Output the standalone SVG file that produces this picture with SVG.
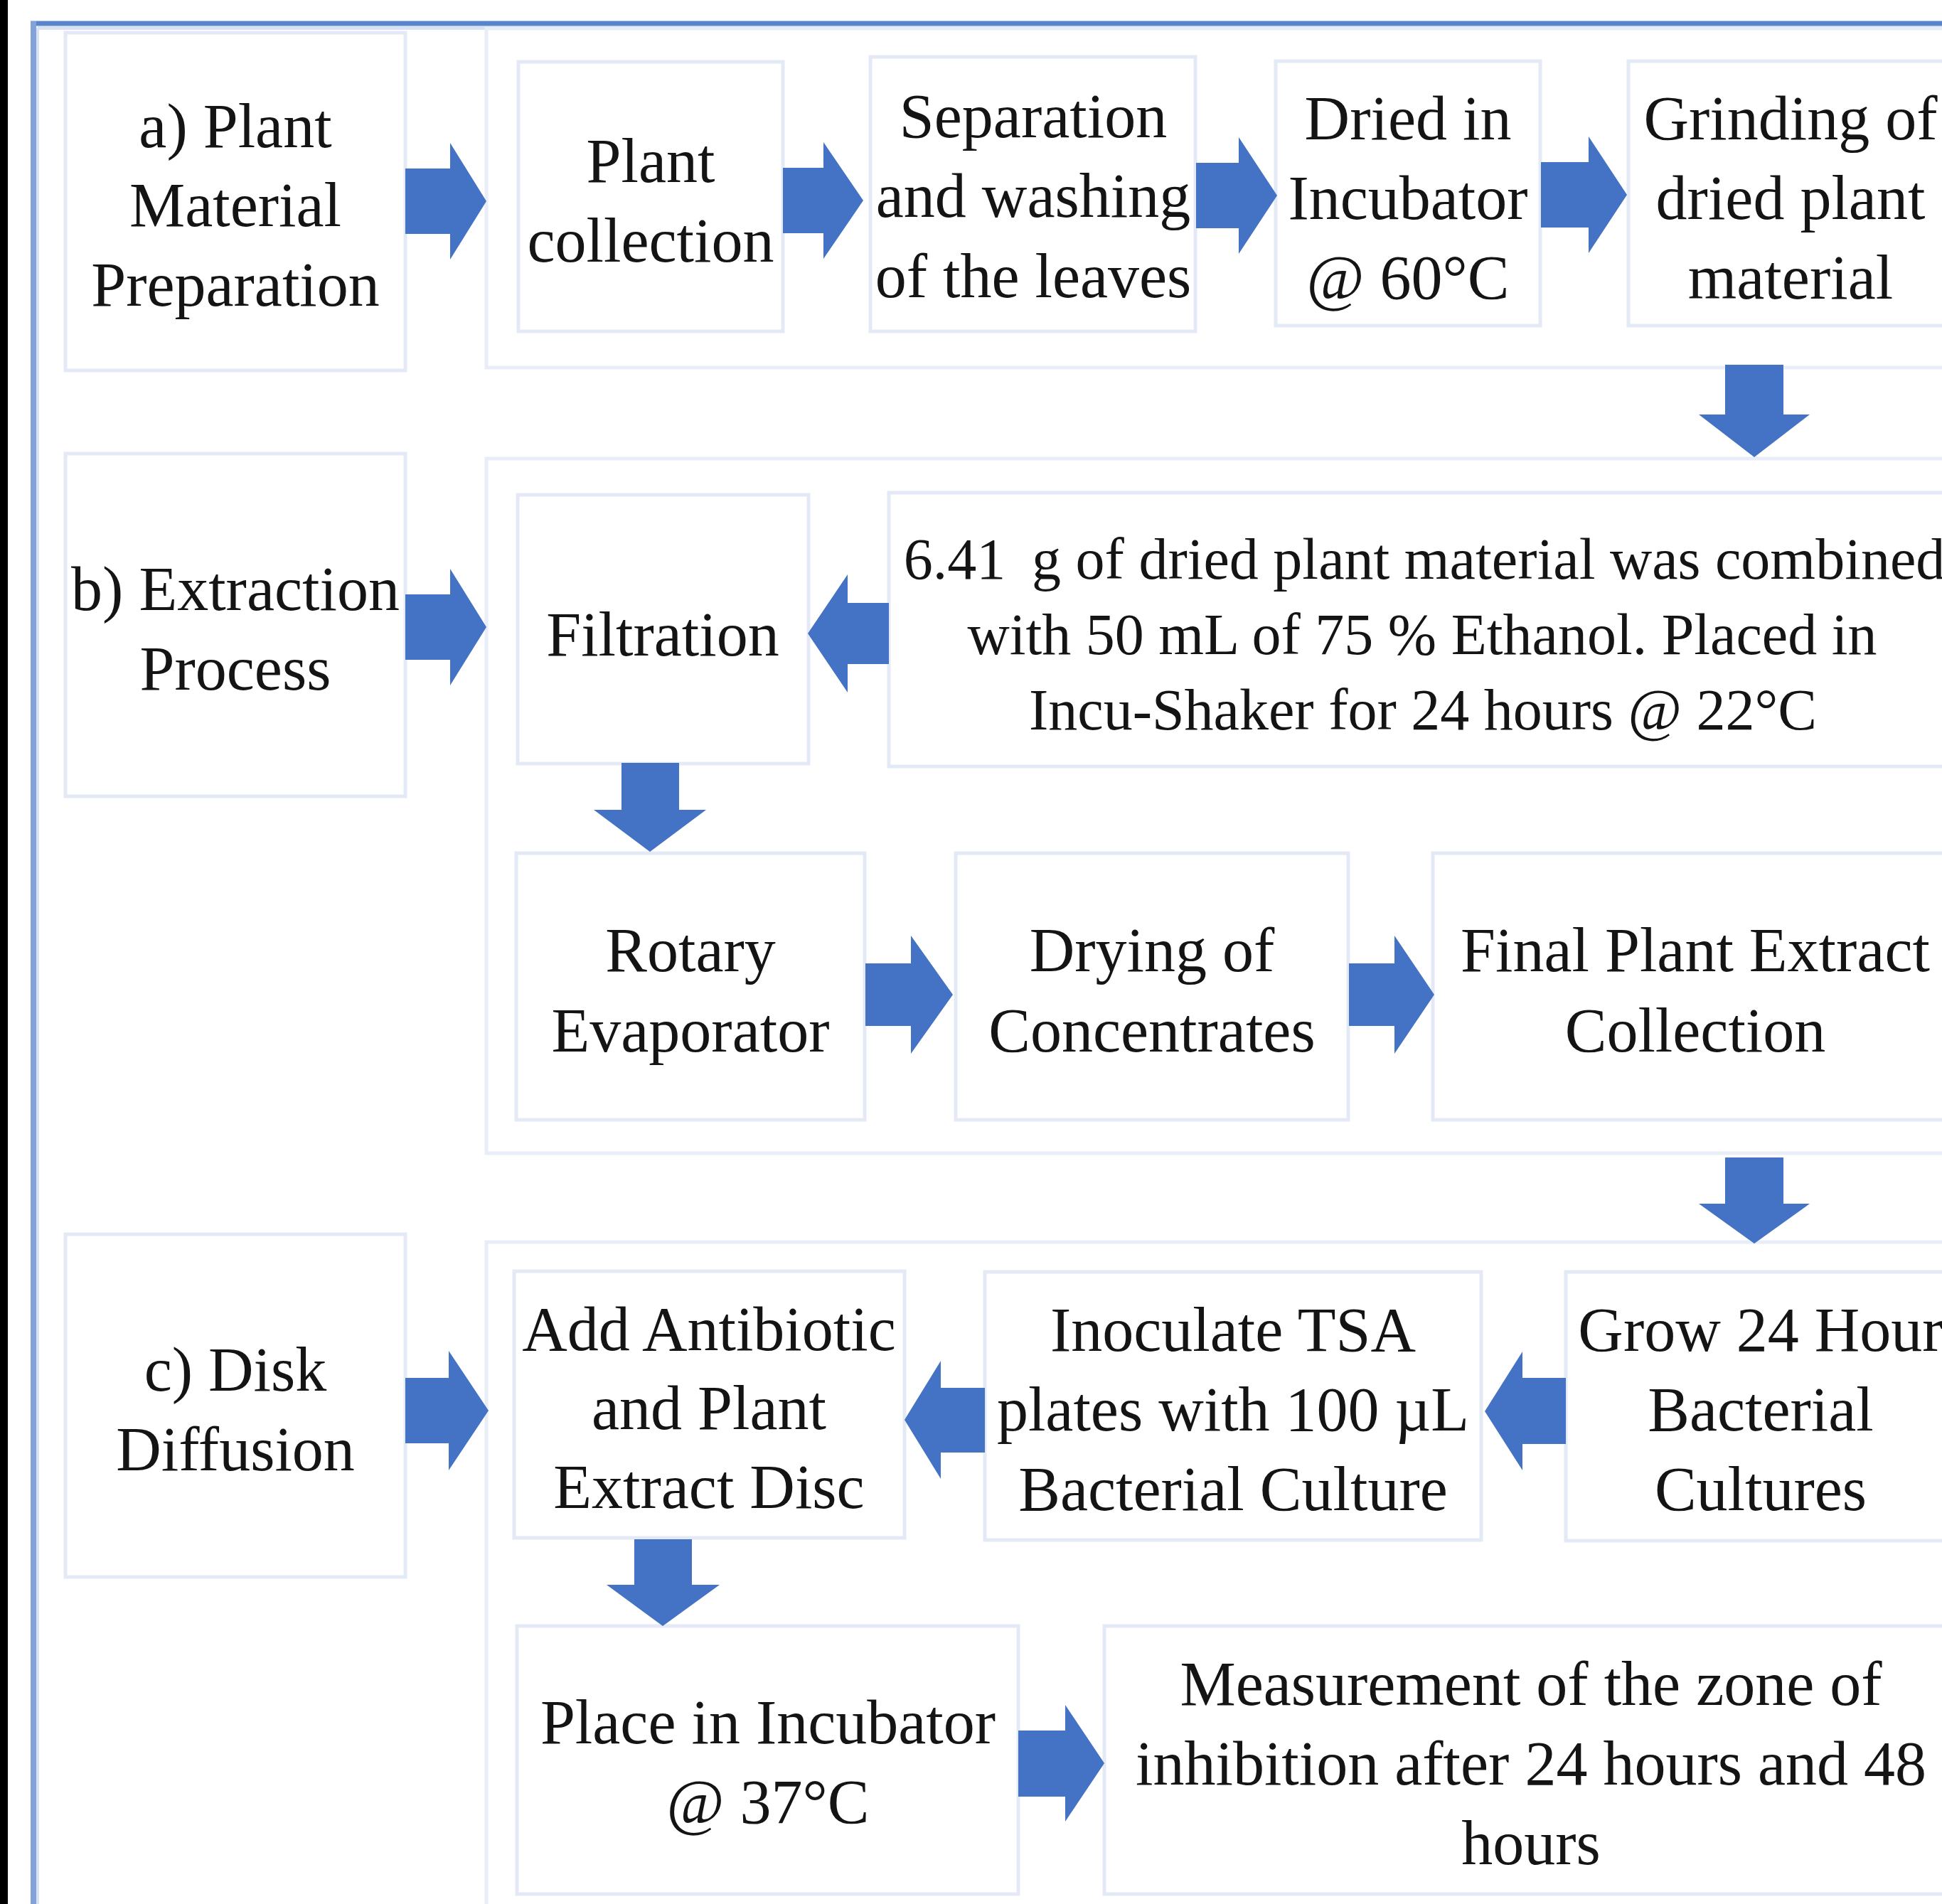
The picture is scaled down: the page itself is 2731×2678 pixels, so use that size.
<svg xmlns="http://www.w3.org/2000/svg" width="2731" height="2678" viewBox="0 0 2731 2678">
<style>
.bg{fill:#ffffff}
.box{fill:#ffffff;stroke:#E4EAF5;stroke-width:5}
.grp{fill:none;stroke:#E8EDF7;stroke-width:5}
.arr{fill:#4472C4}
text{font-family:"Liberation Serif","Times New Roman",serif;font-size:88px;fill:#141414;text-anchor:middle}
.sm{font-size:82px}
</style>
<rect class="bg" x="0" y="0" width="2731" height="2678"/>
<rect x="0" y="0" width="11" height="2678" fill="#000000"/>
<!-- outer frame -->
<g id="frame">
<line x1="53" y1="39.5" x2="2731" y2="39.5" stroke="#D8E2F2" stroke-width="5"/>
<line x1="53" y1="39" x2="53" y2="2678" stroke="#D8E2F2" stroke-width="4"/>
<line x1="43" y1="33" x2="2731" y2="33" stroke="#5886CA" stroke-width="7"/>
<line x1="47" y1="30" x2="47" y2="2678" stroke="#82A2D9" stroke-width="8"/>
</g>
<!-- group containers -->
<g id="groups">
<rect class="grp" x="684" y="40" width="2100" height="477"/>
<rect class="grp" x="684" y="645" width="2100" height="977"/>
<rect class="grp" x="684" y="1747" width="2100" height="1000"/>
</g>
<!-- section labels -->
<g id="label-a"><rect class="box" x="92" y="46" width="478" height="475"/>
<text x="331" y="207">a) Plant</text><text x="331" y="318">Material</text><text x="331" y="430">Preparation</text></g>
<g id="label-b"><rect class="box" x="92" y="638" width="478" height="482"/>
<text x="331" y="858">b) Extraction</text><text x="331" y="970">Process</text></g>
<g id="label-c"><rect class="box" x="92" y="1736" width="478" height="482"/>
<text x="331" y="1956">c) Disk</text><text x="331" y="2068">Diffusion</text></g>
<!-- row a -->
<g id="plant-collection"><rect class="box" x="729" y="87" width="372" height="379"/>
<text x="915" y="256">Plant</text><text x="915" y="368">collection</text></g>
<g id="separation"><rect class="box" x="1224" y="80" width="457" height="386"/>
<text x="1453" y="193">Separation</text><text x="1453" y="305">and washing</text><text x="1453" y="418">of the leaves</text></g>
<g id="dried"><rect class="box" x="1794" y="86" width="372" height="372"/>
<text x="1980" y="196">Dried in</text><text x="1980" y="308">Incubator</text><text x="1980" y="420">@ 60°C</text></g>
<g id="grinding"><rect class="box" x="2290" y="86" width="456" height="372"/>
<text x="2518" y="196">Grinding of</text><text x="2518" y="308">dried plant</text><text x="2518" y="420">material</text></g>
<!-- row b -->
<g id="filtration"><rect class="box" x="728" y="696" width="409" height="378"/>
<text x="932" y="922">Filtration</text></g>
<g id="combine"><rect class="box" x="1250" y="693" width="1500" height="385"/>
<text class="sm" x="2003" y="814">6.41&#8201; g of dried plant material was combined</text>
<text class="sm" x="2000" y="920">with 50 mL of 75 % Ethanol. Placed in</text>
<text class="sm" x="2001" y="1026">Incu-Shaker for 24 hours @ 22°C</text></g>
<g id="rotary"><rect class="box" x="726" y="1200" width="490" height="375"/>
<text x="971" y="1366">Rotary</text><text x="971" y="1479">Evaporator</text></g>
<g id="drying"><rect class="box" x="1344" y="1200" width="552" height="375"/>
<text x="1620" y="1366">Drying of</text><text x="1620" y="1479">Concentrates</text></g>
<g id="final"><rect class="box" x="2015" y="1200" width="735" height="375"/>
<text x="2384" y="1366">Final Plant Extract</text><text x="2384" y="1479">Collection</text></g>
<!-- row c -->
<g id="add-disc"><rect class="box" x="723" y="1788" width="549" height="375"/>
<text x="997" y="1899">Add Antibiotic</text><text x="997" y="2010">and Plant</text><text x="997" y="2121">Extract Disc</text></g>
<g id="inoculate"><rect class="box" x="1385" y="1789" width="698" height="377"/>
<text x="1734" y="1900">Inoculate TSA</text><text x="1734" y="2012">plates with 100 µL</text><text x="1734" y="2124">Bacterial Culture</text></g>
<g id="grow"><rect class="box" x="2202" y="1789" width="548" height="378"/>
<text x="2476" y="1900">Grow 24 Hour</text><text x="2476" y="2012">Bacterial</text><text x="2476" y="2124">Cultures</text></g>
<g id="place"><rect class="box" x="727" y="2287" width="705" height="377"/>
<text x="1080" y="2452">Place in Incubator</text><text x="1080" y="2564">@ 37°C</text></g>
<g id="measure"><rect class="box" x="1553" y="2287" width="1200" height="377"/>
<text x="2153" y="2398">Measurement of the zone of</text><text x="2153" y="2510">inhibition after 24 hours and 48</text><text x="2153" y="2622">hours</text></g>
<!-- connectors -->
<g id="connectors">
<polygon class="arr" points="570,237 633,237 633,201 684,283 633,365 633,329 570,329"/>
<polygon class="arr" points="1101,236 1158,236 1158,200 1214,282 1158,364 1158,328 1101,328"/>
<polygon class="arr" points="1682,229 1742,229 1742,193 1796,275 1742,357 1742,321 1682,321"/>
<polygon class="arr" points="2167,228 2234,228 2234,192 2288,274 2234,356 2234,320 2167,320"/>
<polygon class="arr" points="2426,513 2508,513 2508,583 2545,583 2467,643 2389,583 2426,583"/>
<polygon class="arr" points="570,836 633,836 633,800 684,882 633,964 633,928 570,928"/>
<polygon class="arr" points="1250,848 1192,848 1192,808 1136,891 1192,974 1192,934 1250,934"/>
<polygon class="arr" points="874,1073 955,1073 955,1139 993,1139 914,1198 835,1139 874,1139"/>
<polygon class="arr" points="1217,1355 1281,1355 1281,1316 1340,1399 1281,1482 1281,1443 1217,1443"/>
<polygon class="arr" points="1897,1355 1961,1355 1961,1316 2017,1399 1961,1482 1961,1443 1897,1443"/>
<polygon class="arr" points="2426,1628 2508,1628 2508,1693 2545,1693 2467,1749 2389,1693 2426,1693"/>
<polygon class="arr" points="570,1938 631,1938 631,1900 687,1984 631,2068 631,2030 570,2030"/>
<polygon class="arr" points="1385,1952 1323,1952 1323,1914 1272,1997 1323,2080 1323,2043 1385,2043"/>
<polygon class="arr" points="2202,1938 2141,1938 2141,1901 2088,1985 2141,2068 2141,2031 2202,2031"/>
<polygon class="arr" points="892,2165 973,2165 973,2229 1012,2229 932,2287 853,2229 892,2229"/>
<polygon class="arr" points="1432,2434 1498,2434 1498,2398 1553,2480 1498,2562 1498,2527 1432,2527"/>
</g>
</svg>
